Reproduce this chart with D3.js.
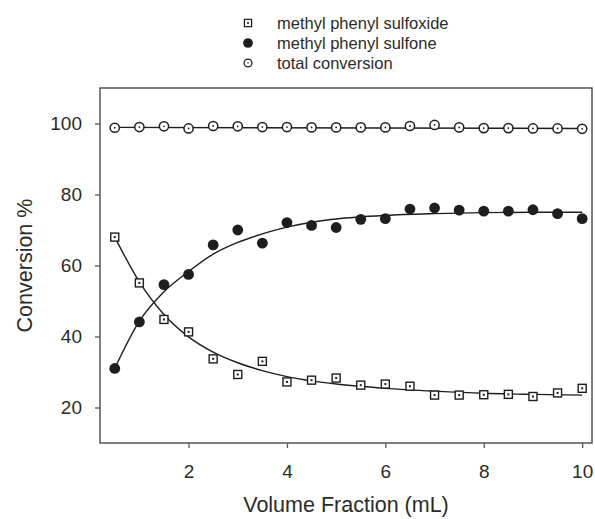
<!DOCTYPE html>
<html>
<head>
<meta charset="utf-8">
<script src="https://cdn.jsdelivr.net/npm/d3@7"></script>
<style>
  html, body { margin: 0; padding: 0; background: #fff; }
  svg { display: block; font-family: "Liberation Sans", Arial, sans-serif; }
  .axis path { display: none; }
  .axis line { stroke: #555; stroke-width: 1.3; }
  .axis text { fill: #2b2b2b; font-size: 19px; }
</style>
</head>
<body>
<svg id="chart" width="595" height="519"></svg>
<script>
// measured points
const volume = [0.5, 1, 1.5, 2, 2.5, 3, 3.5, 4, 4.5, 5, 5.5, 6, 6.5, 7, 7.5, 8, 8.5, 9, 9.5, 10];
const sulfoxide = [68.0, 55.1, 44.8, 41.3, 33.7, 29.3, 33.0, 27.2, 27.7, 28.3, 26.3, 26.6, 26.0, 23.5, 23.5, 23.6, 23.7, 23.1, 24.1, 25.4];
const sulfone = [31.0, 44.1, 54.6, 57.5, 65.8, 70.0, 66.3, 72.1, 71.3, 70.7, 73.0, 73.2, 75.9, 76.2, 75.6, 75.3, 75.3, 75.7, 74.6, 73.2];
const total = [98.8, 99.0, 99.2, 98.6, 99.3, 99.2, 99.0, 99.0, 98.9, 98.9, 98.9, 98.9, 99.3, 99.6, 98.9, 98.7, 98.7, 98.6, 98.6, 98.5];

// fitted curves
const fitX = [0.5, 1, 1.5, 2, 2.5, 3, 3.5, 4, 4.5, 5, 6, 7, 8, 9, 10];
const sulfoxideFit = [68, 55.4, 46.2, 39.9, 35.6, 32.6, 30.4, 28.7, 27.5, 26.6, 25.4, 24.6, 24.0, 23.7, 23.5];
const sulfoneFit = [31, 44.3, 52.6, 58.3, 63.2, 66.5, 68.9, 70.8, 72.2, 73.1, 74.1, 74.6, 74.9, 75.0, 75.0];
const totalFitX = [0.5, 10];
const totalFit = [98.9, 98.6];

const xTicks = [2, 4, 6, 8, 10];
const yTicks = [20, 40, 60, 80, 100];
const legendLabels = ["methyl phenyl sulfoxide", "methyl phenyl sulfone", "total conversion"];

const width = 595;
const height = 519;
const marginTop = 88;
const marginRight = 3;
const marginBottom = 76;
const marginLeft = 100;
const ink = "#1e1e1e";

const svg = d3.select("#chart");

const x = d3.scaleLinear().domain([0.2, 10.2]).range([marginLeft, width - marginRight]);
const y = d3.scaleLinear().domain([10, 110]).range([height - marginBottom, marginTop]);

// axes
svg.append("g")
  .attr("class", "x axis")
  .attr("transform", `translate(0,${height - marginBottom})`)
  .call(d3.axisBottom(x).tickValues(xTicks).tickSize(5).tickPadding(17).tickFormat(d3.format("d")));

svg.append("g")
  .attr("class", "y axis")
  .attr("transform", `translate(${marginLeft},0)`)
  .call(d3.axisLeft(y).tickValues(yTicks).tickSize(5).tickPadding(13).tickFormat(d3.format("d")));

// frame
svg.append("rect")
  .attr("x", marginLeft)
  .attr("y", marginTop)
  .attr("width", width - marginLeft - marginRight)
  .attr("height", height - marginTop - marginBottom)
  .attr("fill", "none")
  .attr("stroke", "#555")
  .attr("stroke-width", 1.5);

// axis titles
svg.append("text")
  .attr("x", (marginLeft + width - marginRight) / 2)
  .attr("y", 512)
  .attr("text-anchor", "middle")
  .attr("fill", "#2b2b2b")
  .attr("font-size", 21.5)
  .text("Volume Fraction (mL)");

svg.append("text")
  .attr("transform", `translate(32,${(marginTop + height - marginBottom) / 2}) rotate(-90)`)
  .attr("text-anchor", "middle")
  .attr("fill", "#2b2b2b")
  .attr("font-size", 21.5)
  .text("Conversion %");

// fit lines
const line = d3.line()
  .x((d) => x(d[0]))
  .y((d) => y(d[1]))
  .curve(d3.curveMonotoneX);

const fits = [
  d3.zip(fitX, sulfoxideFit),
  d3.zip(fitX, sulfoneFit),
  d3.zip(totalFitX, totalFit),
];

svg.append("g")
  .selectAll("path")
  .data(fits)
  .join("path")
  .attr("d", line)
  .attr("fill", "none")
  .attr("stroke", ink)
  .attr("stroke-width", 1.4);

// markers
function square(g) {
  g.append("rect")
    .attr("x", -4).attr("y", -4).attr("width", 8).attr("height", 8)
    .attr("fill", "#fff").attr("stroke", ink).attr("stroke-width", 1.4);
  g.append("rect")
    .attr("x", -1).attr("y", -1).attr("width", 2).attr("height", 2)
    .attr("fill", ink);
}
function dot(g) {
  g.append("circle").attr("r", 5.4).attr("fill", ink);
}
function ring(g) {
  g.append("circle").attr("r", 4.6)
    .attr("fill", "#fff").attr("stroke", ink).attr("stroke-width", 1.5);
  g.append("circle").attr("r", 0.9).attr("fill", ink);
}

const series = [
  { values: sulfoxide, draw: square },
  { values: sulfone, draw: dot },
  { values: total, draw: ring },
];

series.forEach((s) => {
  svg.append("g")
    .selectAll("g")
    .data(d3.zip(volume, s.values))
    .join("g")
    .attr("transform", (d) => `translate(${x(d[0])},${y(d[1])})`)
    .each(function () { s.draw(d3.select(this)); });
});

// legend
const legend = svg.append("g").attr("transform", "translate(248,23)");
legendLabels.forEach((label, i) => {
  const row = legend.append("g").attr("transform", `translate(0,${i * 20})`);
  series[i].draw(row.append("g").attr("transform", i === 2 ? "scale(0.85)" : "scale(0.9)"));
  row.append("text")
    .attr("x", 29)
    .attr("y", 5.5)
    .attr("fill", "#2b2b2b")
    .attr("font-size", 16.5)
    .text(label);
});
</script>
</body>
</html>
